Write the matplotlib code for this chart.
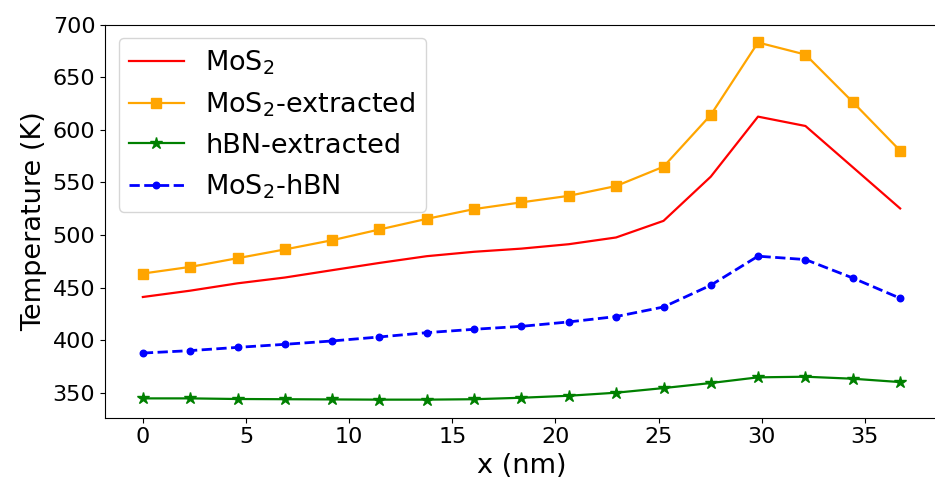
import matplotlib
matplotlib.use("Agg")
import matplotlib.pyplot as plt

x_nm = [0.0, 2.29, 4.59, 6.88, 9.18, 11.47, 13.76, 16.06, 18.35, 20.65,
        22.94, 25.24, 27.53, 29.82, 32.12, 34.41, 36.71]
mos2 = [441, 447, 454, 459.5, 466.5, 473.4, 479.8, 484, 487, 491.2,
        497.6, 513.4, 555.4, 612.5, 603.6, 564.5, 525.2]
mos2_extracted = [463.3, 469.6, 477.9, 486.2, 495, 505.2, 515.3, 524.6, 531,
                  537.2, 546.5, 564.9, 614.1, 683, 671.5, 626.5, 580.1]
hbn_extracted = [344.6, 344.6, 344.0, 343.8, 343.6, 343.4, 343.4, 343.8, 345.2,
                 347.1, 350.0, 354.4, 359.2, 364.6, 365.2, 363.3, 360.1]
mos2_hbn = [387.7, 390, 393.1, 396, 399.2, 403, 407.1, 410.3, 413.1, 417.3,
            422.4, 431.5, 452.2, 479.8, 476.6, 459.1, 439.8]

labels = [r"MoS$_2$", r"MoS$_2$-extracted", "hBN-extracted", r"MoS$_2$-hBN"]

fig = plt.figure(figsize=(9.35, 4.82), dpi=100)
ax = fig.add_axes([105/935, 1 - 417.5/482, 833/935, 393/482])

ax.plot(x_nm, mos2, color="red", lw=1.6, label=labels[0])
ax.plot(x_nm, mos2_extracted, color="orange", marker="s", ms=7, lw=1.6, label=labels[1])
ax.plot(x_nm, hbn_extracted, color="green", marker="*", ms=9, lw=1.6, label=labels[2])
ax.plot(x_nm, mos2_hbn, color="blue", marker="o", ms=4.7, ls="--", lw=2, label=labels[3])

ax.set_ylim(None, 700.1)
ax.set_xlabel("x (nm)", fontsize=19.5)
ax.set_ylabel("Temperature (K)", fontsize=19.5)
ax.tick_params(labelsize=16)
ax.legend(loc="upper left", fontsize=19.5)

fig.savefig("out.png", dpi=100)
